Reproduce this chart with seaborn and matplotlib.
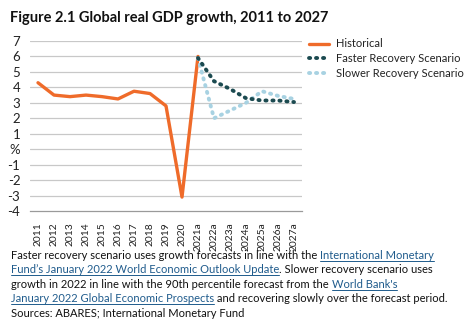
import matplotlib
matplotlib.use("Agg")
import matplotlib.pyplot as plt
import seaborn as sns
import pandas as pd

# ---- data ----
years = ["2011", "2012", "2013", "2014", "2015", "2016", "2017", "2018", "2019", "2020",
         "2021a", "2022a", "2023a", "2024a", "2025a", "2026a", "2027a"]
historical = [4.3, 3.5, 3.4, 3.5, 3.4, 3.25, 3.75, 3.6, 2.8, -3.1, 6.0,
              None, None, None, None, None, None]
faster = [None] * 10 + [5.9, 4.4, 3.9, 3.3, 3.15, 3.15, 3.05]
slower = [None] * 10 + [5.9, 2.0, 2.5, 3.0, 3.75, 3.45, 3.25]
series_names = ["Historical", "Faster Recovery Scenario", "Slower Recovery Scenario"]
yticks = [-4, -3, -2, -1, 0, 1, 2, 3, 4, 5, 6, 7]
ytick_labels = ["-4", "-3", "-2", "-1", "%", "1", "2", "3", "4", "5", "6", "7"]
title = "Figure 2.1 Global real GDP growth, 2011 to 2027"

sns.set_theme(style="white")
plt.rcParams["font.family"] = ["Lato", "DejaVu Sans"]

fig = plt.figure(figsize=(4.75, 3.33), dpi=100)
fig.canvas.draw()
renderer = fig.canvas.get_renderer()


def fit_size(text, target_px, base=10.0, **kw):
    t = fig.text(0, 0, text, fontsize=base, **kw)
    w = t.get_window_extent(renderer).width
    t.remove()
    return base * target_px / w


ax = fig.add_axes([30 / 475, 1 - 211 / 333, 272 / 475, 170 / 333])

df = pd.DataFrame({"x": list(range(len(years))),
                   series_names[0]: historical,
                   series_names[1]: faster,
                   series_names[2]: slower})

colors = ["#ef6b2a", "#1b4a50", "#a8d2e2"]
dot = (0, (0.3, 1.5))
sns.lineplot(data=df, x="x", y=series_names[0], ax=ax, color=colors[0], lw=2.4,
             label=series_names[0])
sns.lineplot(data=df, x="x", y=series_names[2], ax=ax, color=colors[2], lw=2.8,
             label=series_names[2], linestyle=dot, dash_capstyle="round")
sns.lineplot(data=df, x="x", y=series_names[1], ax=ax, color=colors[1], lw=2.8,
             label=series_names[1], linestyle=dot, dash_capstyle="round")

ax.set_xlim(-0.5, len(years) - 0.5)
ax.set_ylim(-4, 7)
ax.set_yticks(yticks)
ax.set_yticklabels(ytick_labels, fontsize=9.5, color="#222222")
ax.set_xticks(range(len(years)))
ax.set_xticklabels(years, rotation=90, fontsize=7.4, color="#222222")
ax.tick_params(axis="both", length=0, pad=3)
ax.tick_params(axis="y", pad=7)
ax.tick_params(axis="x", pad=8)
ax.set_xlabel("")
ax.set_ylabel("")
for v in yticks[1:]:
    ax.axhline(v, color="#c8c8c8", lw=0.9, zorder=0)
for s in ["top", "right", "left"]:
    ax.spines[s].set_visible(False)
ax.spines["bottom"].set_color("#9a9a9a")
ax.spines["bottom"].set_linewidth(0.9)

leg_fs = fit_size(series_names[2], 127)
handles, labels = ax.get_legend_handles_labels()
order = [labels.index(n) for n in series_names]
leg = ax.legend([handles[i] for i in order], [labels[i] for i in order],
                loc="upper left", bbox_to_anchor=(305 / 475, 1 - 34 / 333),
                bbox_transform=fig.transFigure, frameon=False, fontsize=leg_fs,
                handlelength=1.8, handletextpad=0.6, labelspacing=0.35,
                borderaxespad=0)
for t in leg.get_texts():
    t.set_color("#222222")

title_fs = fit_size(title, 320, fontweight="bold")
fig.text(10 / 475, 1 - 18 / 333, title, fontsize=title_fs, fontweight="bold",
         va="center", ha="left", color="#111111")

# ---- caption with links ----
link_color = "#1f5b8c"
lines = [
    [("Faster recovery scenario uses growth forecasts in line with the ", False),
     ("International Monetary", True)],
    [("Fund\u2019s January 2022 World Economic Outlook Update", True),
     (". Slower recovery scenario uses", False)],
    [("growth in 2022 in line with the 90th percentile forecast from the ", False),
     ("World Bank's", True)],
    [("January 2022 Global Economic Prospects", True),
     (" and recovering slowly over the forecast period.", False)],
    [("Sources: ABARES; International Monetary Fund", False)],
]
fs = fit_size("".join(p[0] for p in lines[0]), 422)
x0 = 11
y_start = 259
dy = 14.4
for i, parts in enumerate(lines):
    x = x0
    ybase = 333 - (y_start + i * dy)
    for txt, link in parts:
        t = fig.text(x / 475, ybase / 333, txt, fontsize=fs, ha="left", va="baseline",
                     color=link_color if link else "#111111")
        w = t.get_window_extent(renderer).width
        if link:
            fig.add_artist(plt.Line2D([x / 475, (x + w) / 475],
                                      [(ybase - 2) / 333, (ybase - 2) / 333],
                                      color=link_color, lw=0.7))
        x += w

fig.savefig("out.png", dpi=100)
